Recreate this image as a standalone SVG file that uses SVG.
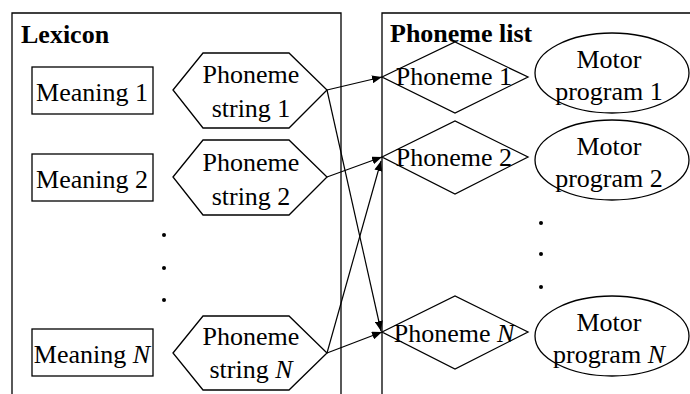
<svg xmlns="http://www.w3.org/2000/svg" width="690" height="394" viewBox="0 0 690 394">
  <style>
    .shape { fill: #fff; stroke: #000; stroke-width: 1.3; }
    .frame { fill: none; stroke: #000; stroke-width: 1.3; }
    .t { font-size: 26px; fill: #000; }
    .mid { text-anchor: middle; }
    .title { font-weight: bold; }
    .edge { fill: none; stroke: #000; stroke-width: 1.2; }
    .dot { fill: #000; }
  </style>
  <defs>
    <marker id="arrow" viewBox="0 0 10 8" refX="10" refY="4" markerWidth="10" markerHeight="8" markerUnits="userSpaceOnUse" orient="auto">
      <path d="M0,0 L10,4 L0,8 Z" fill="#000"/>
    </marker>
  </defs>

  <g font-family="Liberation Serif, Tinos, Times New Roman, Times, DejaVu Serif, serif">
  <!-- panels -->
  <g id="lexicon">
    <path class="frame" d="M12,400 V13 H341 V400"/>
    <text class="t title" x="21" y="43">Lexicon</text>
  </g>
  <g id="phoneme-list">
    <path class="frame" d="M382,400 V13 H692"/>
    <text class="t title" x="390" y="42">Phoneme list</text>
  </g>

  <!-- meanings -->
  <g id="meaning-1">
    <rect class="shape" x="32" y="67" width="121" height="47"/>
    <text class="t mid" x="92" y="101">Meaning 1</text>
  </g>
  <g id="meaning-2">
    <rect class="shape" x="32" y="154" width="121" height="47"/>
    <text class="t mid" x="92" y="188">Meaning 2</text>
  </g>
  <g id="meaning-n">
    <rect class="shape" x="32" y="329" width="121" height="47"/>
    <text class="t mid" x="92" y="363">Meaning <tspan font-style="italic">N</tspan></text>
  </g>

  <!-- phoneme strings -->
  <g id="string-1">
    <polygon class="shape" points="173,90 203,53 289,53 327,90 289,128 203,128"/>
    <text class="t mid" x="251" y="83">Phoneme</text>
    <text class="t mid" x="251" y="117">string 1</text>
  </g>
  <g id="string-2">
    <polygon class="shape" points="173,177 203,140 289,140 327,177 289,215 203,215"/>
    <text class="t mid" x="251" y="171">Phoneme</text>
    <text class="t mid" x="251" y="205">string 2</text>
  </g>
  <g id="string-n">
    <polygon class="shape" points="173,353 203,316 289,316 327,353 289,390 203,390"/>
    <text class="t mid" x="251" y="345">Phoneme</text>
    <text class="t mid" x="251" y="378">string <tspan font-style="italic">N</tspan></text>
  </g>

  <g id="lexicon-ellipsis">
    <circle class="dot" cx="164" cy="235" r="2"/>
    <circle class="dot" cx="164" cy="268" r="2"/>
    <circle class="dot" cx="164" cy="300" r="2"/>
  </g>

  <!-- phonemes -->
  <g id="phoneme-1">
    <polygon class="shape" points="382,77 455,42 528,77 455,113"/>
    <text class="t mid" x="454" y="85">Phoneme 1</text>
  </g>
  <g id="phoneme-2">
    <polygon class="shape" points="382,157 455,121 528,157 455,194"/>
    <text class="t mid" x="454" y="166">Phoneme 2</text>
  </g>
  <g id="phoneme-n">
    <polygon class="shape" points="382,332 455,296 528,332 455,369"/>
    <text class="t mid" x="454" y="342">Phoneme <tspan font-style="italic">N</tspan></text>
  </g>

  <!-- motor programs -->
  <g id="motor-1">
    <ellipse class="shape" cx="612" cy="73" rx="77" ry="40"/>
    <text class="t mid" x="609" y="68">Motor</text>
    <text class="t mid" x="609" y="100">program 1</text>
  </g>
  <g id="motor-2">
    <ellipse class="shape" cx="612" cy="160" rx="77" ry="40"/>
    <text class="t mid" x="609" y="155">Motor</text>
    <text class="t mid" x="609" y="187">program 2</text>
  </g>
  <g id="motor-n">
    <ellipse class="shape" cx="612" cy="336" rx="77" ry="40"/>
    <text class="t mid" x="609" y="331">Motor</text>
    <text class="t mid" x="609" y="363">program <tspan font-style="italic">N</tspan></text>
  </g>

  <g id="motor-ellipsis">
    <circle class="dot" cx="541" cy="223" r="2"/>
    <circle class="dot" cx="541" cy="254" r="2"/>
    <circle class="dot" cx="541" cy="287" r="2"/>
  </g>
  </g>

  <!-- connectors -->
  <g id="connectors">
    <line class="edge" x1="327" y1="90" x2="382" y2="77" marker-end="url(#arrow)"/>
    <line class="edge" x1="327" y1="90" x2="381" y2="331" marker-end="url(#arrow)"/>
    <line class="edge" x1="327" y1="177" x2="382" y2="157" marker-end="url(#arrow)"/>
    <line class="edge" x1="327" y1="353" x2="381" y2="161" marker-end="url(#arrow)"/>
    <line class="edge" x1="327" y1="353" x2="382" y2="332" marker-end="url(#arrow)"/>
  </g>
</svg>
